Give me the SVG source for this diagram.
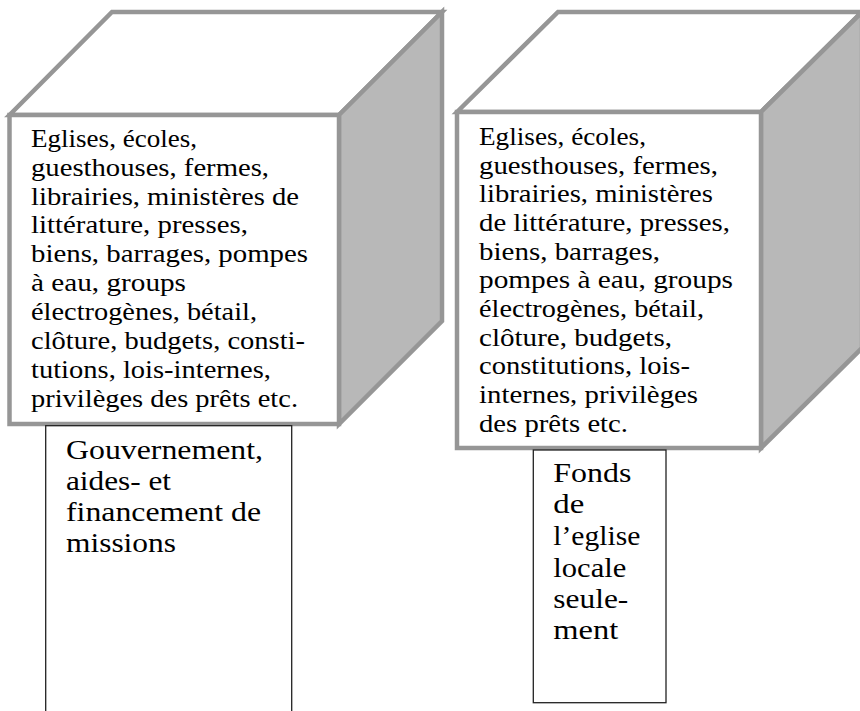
<svg xmlns="http://www.w3.org/2000/svg" width="860" height="711" viewBox="0 0 860 711">
<style>
.edge{stroke:#969696;stroke-width:4.5;stroke-linejoin:miter}
.face{fill:#ffffff}
.side{fill:#b8b8b8}
.box{fill:#ffffff;stroke:#222;stroke-width:1.3}
.t{font-family:"Liberation Serif","Times New Roman",serif;font-size:24.5px;fill:#000}
.b{font-family:"Liberation Serif","Times New Roman",serif;font-size:28px;fill:#000}
</style>
<rect width="860" height="711" fill="#ffffff"/>
<g id="cube-left">
<polygon class="face edge" points="9.5,115 112,12 442,12 339,115"/>
<polygon class="side edge" points="339,115 442,12 442,321 339,424"/>
<rect class="face edge" x="9.5" y="115" width="329.5" height="309"/>
<g class="t">
<text x="31" y="146.7" textLength="166" lengthAdjust="spacingAndGlyphs">Eglises, écoles,</text>
<text x="31" y="175.6" textLength="238" lengthAdjust="spacingAndGlyphs">guesthouses, fermes,</text>
<text x="31" y="204.5" textLength="268" lengthAdjust="spacingAndGlyphs">librairies, ministères de</text>
<text x="31" y="233.4" textLength="217" lengthAdjust="spacingAndGlyphs">littérature, presses,</text>
<text x="31" y="262.3" textLength="277" lengthAdjust="spacingAndGlyphs">biens, barrages, pompes</text>
<text x="31" y="291.2" textLength="155" lengthAdjust="spacingAndGlyphs">à eau, groups</text>
<text x="31" y="320.1" textLength="226" lengthAdjust="spacingAndGlyphs">électrogènes, bétail,</text>
<text x="31" y="349" textLength="274" lengthAdjust="spacingAndGlyphs">clôture, budgets, consti-</text>
<text x="31" y="377.9" textLength="240" lengthAdjust="spacingAndGlyphs">tutions, lois-internes,</text>
<text x="31" y="406.8" textLength="267" lengthAdjust="spacingAndGlyphs">privilèges des prêts etc.</text>
</g>
</g>
<g id="cube-right">
<polygon class="face edge" points="457,112 558,12 862,12 761,112"/>
<polygon class="side edge" points="761,112 862,12 862,348 761,448"/>
<rect class="face edge" x="457" y="112" width="304" height="336"/>
<g class="t">
<text x="479" y="145" textLength="167" lengthAdjust="spacingAndGlyphs">Eglises, écoles,</text>
<text x="479" y="173.7" textLength="239" lengthAdjust="spacingAndGlyphs">guesthouses, fermes,</text>
<text x="479" y="202.3" textLength="234" lengthAdjust="spacingAndGlyphs">librairies, ministères</text>
<text x="479" y="231" textLength="251" lengthAdjust="spacingAndGlyphs">de littérature, presses,</text>
<text x="479" y="259.7" textLength="181" lengthAdjust="spacingAndGlyphs">biens, barrages,</text>
<text x="479" y="288.3" textLength="254" lengthAdjust="spacingAndGlyphs">pompes à eau, groups</text>
<text x="479" y="317" textLength="225" lengthAdjust="spacingAndGlyphs">électrogènes, bétail,</text>
<text x="479" y="345.7" textLength="193" lengthAdjust="spacingAndGlyphs">clôture, budgets,</text>
<text x="479" y="374.3" textLength="211" lengthAdjust="spacingAndGlyphs">constitutions, lois-</text>
<text x="479" y="403" textLength="219" lengthAdjust="spacingAndGlyphs">internes, privilèges</text>
<text x="479" y="431.7" textLength="149" lengthAdjust="spacingAndGlyphs">des prêts etc.</text>
</g>
</g>
<g id="box-left">
<rect class="box" x="45.7" y="425.7" width="246" height="300"/>
<g class="b">
<text x="66" y="459" textLength="197" lengthAdjust="spacingAndGlyphs">Gouvernement,</text>
<text x="66" y="490" textLength="105" lengthAdjust="spacingAndGlyphs">aides- et</text>
<text x="66" y="521" textLength="195" lengthAdjust="spacingAndGlyphs">financement de</text>
<text x="66" y="552" textLength="110" lengthAdjust="spacingAndGlyphs">missions</text>
</g>
</g>
<g id="box-right">
<rect class="box" x="533.3" y="450" width="132.7" height="252.7"/>
<g class="b">
<text x="553.3" y="481.7" textLength="78" lengthAdjust="spacingAndGlyphs">Fonds</text>
<text x="553.3" y="513.3" textLength="31" lengthAdjust="spacingAndGlyphs">de</text>
<text x="553.3" y="545" textLength="87" lengthAdjust="spacingAndGlyphs">l’eglise</text>
<text x="553.3" y="576.7" textLength="73" lengthAdjust="spacingAndGlyphs">locale</text>
<text x="553.3" y="608.3" textLength="75" lengthAdjust="spacingAndGlyphs">seule-</text>
<text x="553.3" y="639.3" textLength="65" lengthAdjust="spacingAndGlyphs">ment</text>
</g>
</g>
</svg>
